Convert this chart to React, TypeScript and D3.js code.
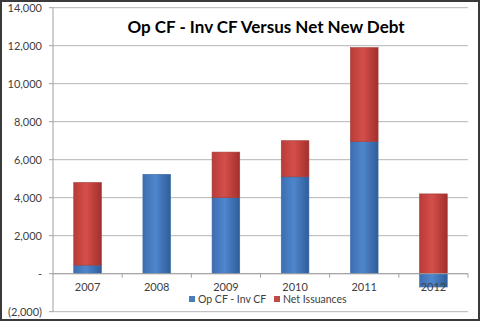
import React from "react";
import * as d3 from "d3";

const years = ["2007", "2008", "2009", "2010", "2011", "2012"];
const opCfInvCf = [450, 5230, 4000, 5100, 6950, -700];
const netIssuances = [4350, 0, 2400, 1900, 4950, 4200];
const yTicks = [-2000, 0, 2000, 4000, 6000, 8000, 10000, 12000, 14000];
const seriesNames = ["Op CF - Inv CF", "Net Issuances"];

const W = 480, H = 321;
const left = 53, right = 468, top = 7.7, bottom = 311.7;
const FONT = "Lato, 'Open Sans', sans-serif";

function fmt(v: number) {
  if (v === 0) return "-";
  const s = d3.format(",")(Math.abs(v));
  return v < 0 ? `(${s})` : s;
}

export default function App() {
  const x = d3.scaleBand<string>().domain(years).range([left, right]).paddingInner(0.6).paddingOuter(0.3);
  const xb = d3.scaleBand<string>().domain(years).range([left, right]);
  const y = d3.scaleLinear().domain([-2000, 14000]).range([bottom, top]);
  const y0 = y(0);

  const bars: JSX.Element[] = [];
  years.forEach((yr, i) => {
    const b = opCfInvCf[i];
    const r = netIssuances[i];
    const bx = x(yr)!;
    const bw = x.bandwidth();
    const by1 = y(Math.max(0, b));
    const by2 = y(Math.min(0, b));
    if (b !== 0) bars.push(<rect key={"b" + i} x={bx} y={by1} width={bw} height={by2 - by1} fill="url(#gBlue)" stroke="#3a6aa8" strokeWidth={0.6} />);
    if (r !== 0) {
      const base = Math.max(0, b);
      const ry1 = y(base + r);
      const ry2 = y(base);
      bars.push(<rect key={"r" + i} x={bx} y={ry1} width={bw} height={ry2 - ry1} fill="url(#gRed)" stroke="#a03c39" strokeWidth={0.6} />);
    }
  });

  return (
    <svg width={W} height={H} style={{ position: "absolute", left: 0, top: 0 }} fontFamily={FONT}>
      <defs>
        <linearGradient id="gBlue" x1="0" x2="1" y1="0" y2="0">
          <stop offset="0" stopColor="#3c6eb0" />
          <stop offset="0.45" stopColor="#4f86cc" />
          <stop offset="1" stopColor="#2f5d9a" />
        </linearGradient>
        <linearGradient id="gRed" x1="0" x2="1" y1="0" y2="0">
          <stop offset="0" stopColor="#b83b38" />
          <stop offset="0.45" stopColor="#d44f4b" />
          <stop offset="1" stopColor="#a22f2c" />
        </linearGradient>
      </defs>
      <rect x={0} y={0} width={W} height={H} fill="#fff" />
      {yTicks.map((t) => (
        <g key={t}>
          <line x1={left} x2={right} y1={y(t)} y2={y(t)} stroke="#b4b4b4" strokeWidth={1} />
          <line x1={left - 4} x2={left} y1={y(t)} y2={y(t)} stroke="#a0a0a0" strokeWidth={1} />
          <text x={42} y={y(t) + 4} textAnchor="end" fontSize={11} fill="#404040">{fmt(t)}</text>
        </g>
      ))}
      <line x1={left} x2={left} y1={top} y2={bottom} stroke="#a0a0a0" strokeWidth={1} />
      {bars}
      <line x1={left} x2={right} y1={y0} y2={y0} stroke="#a0a0a0" strokeWidth={1} />
      {years.map((yr) => (
        <line key={"t" + yr} x1={xb(yr)! + xb.bandwidth()} x2={xb(yr)! + xb.bandwidth()} y1={y0} y2={y0 + 4} stroke="#a0a0a0" />
      ))}
      {years.map((yr) => (
        <text key={"l" + yr} x={xb(yr)! + xb.bandwidth() / 2} y={291} textAnchor="middle" fontSize={11} fill="#404040">{yr}</text>
      ))}
      <text x={266} y={33} textAnchor="middle" fontSize={17} fontWeight="bold" fill="#000">Op CF - Inv CF Versus Net New Debt</text>
      <rect x={189} y={296} width={6} height={6} fill="#4a7ebb" />
      <text x={198} y={302.5} fontSize={10.5} fill="#404040">{seriesNames[0]}</text>
      <rect x={274} y={296} width={6} height={6} fill="#be4b48" />
      <text x={283} y={302.5} fontSize={10.5} fill="#404040">{seriesNames[1]}</text>
      <rect x={1} y={1} width={W - 2} height={H - 2} fill="none" stroke="#3a3a3a" strokeWidth={2} />
    </svg>
  );
}
